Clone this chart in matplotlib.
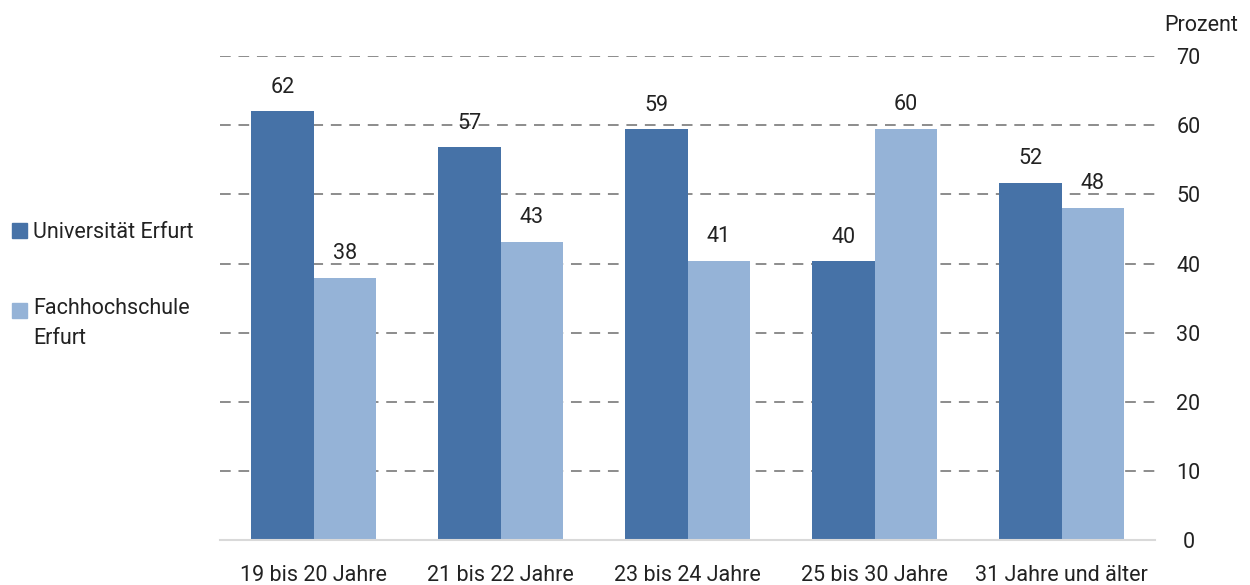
import matplotlib
matplotlib.use("Agg")
import matplotlib.pyplot as plt
from matplotlib.patches import Rectangle
import numpy as np

plt.rcParams['font.family'] = ['Roboto', 'DejaVu Sans']

categories = ["19 bis 20 Jahre", "21 bis 22 Jahre", "23 bis 24 Jahre", "25 bis 30 Jahre", "31 Jahre und älter"]
uni_values = [62.0, 56.8, 59.4, 40.3, 51.7]
fh_values = [37.9, 43.1, 40.4, 59.5, 48.1]
uni_labels = ["62", "57", "59", "40", "52"]
fh_labels = ["38", "43", "41", "60", "48"]
series_names = ["Universität Erfurt", "Fachhochschule\nErfurt"]
yticks = [0, 10, 20, 30, 40, 50, 60, 70]

dark = "#4672A7"
light = "#95B3D7"
txt = "#222222"
fs = 15.5

fig = plt.figure(figsize=(12.5, 5.85), dpi=100)
ax = fig.add_axes([0.176, 0.077, 0.748, 0.827])

x = np.arange(len(categories))
w = 1/3
b1 = ax.bar(x - w/2, uni_values, width=w, color=dark, zorder=3)
b2 = ax.bar(x + w/2, fh_values, width=w, color=light, zorder=3)

for bars, labels in ((b1, uni_labels), (b2, fh_labels)):
    for rect, lab in zip(bars, labels):
        ax.annotate(lab, (rect.get_x() + rect.get_width()/2, rect.get_height()),
                    xytext=(0, 10), textcoords="offset points", ha="center", va="bottom",
                    fontsize=fs, color=txt)

ax.set_xlim(-0.5, len(categories) - 0.5)
ax.set_ylim(0, 70)
ax.set_yticks(yticks)
ax.yaxis.tick_right()
ax.set_xticks(x)
ax.set_xticklabels(categories)
ax.tick_params(axis='y', length=0, pad=24, labelsize=fs, labelcolor=txt)
ax.tick_params(axis='x', length=0, pad=18, labelsize=fs, labelcolor=txt)
for lab in ax.get_yticklabels():
    lab.set_horizontalalignment('center')

for t in yticks[1:]:
    ax.axhline(t, color="#8c8c8c", linestyle=(0, (5.5, 4)), linewidth=1.4, zorder=1)

for s in ["top", "left", "right"]:
    ax.spines[s].set_visible(False)
ax.spines["bottom"].set_color("#d9d9d9")
ax.spines["bottom"].set_linewidth(1.5)
ax.spines["bottom"].set_zorder(4)

fig.text(0.961, 0.957, "Prozent", ha="center", va="center", fontsize=fs, color=txt)

# legend
fig.patches.append(Rectangle((0.0096, 0.593), 0.012, 0.0256, transform=fig.transFigure,
                             color=dark, figure=fig))
fig.text(0.0265, 0.6034, series_names[0], ha="left", va="center", fontsize=fs, color=txt)
fig.patches.append(Rectangle((0.0096, 0.4564), 0.012, 0.0256, transform=fig.transFigure,
                             color=light, figure=fig))
fig.text(0.0265, 0.491, series_names[1], ha="left", va="top", fontsize=fs, color=txt,
         linespacing=1.6)

fig.savefig("out.png", dpi=100)
